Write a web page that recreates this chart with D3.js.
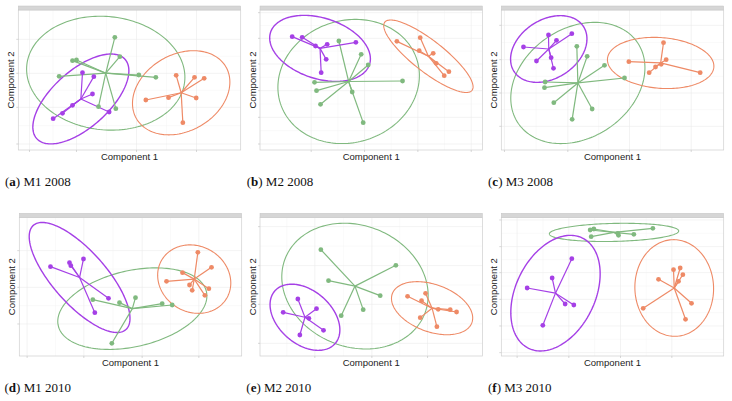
<!DOCTYPE html>
<html><head><meta charset="utf-8">
<script src="https://cdn.jsdelivr.net/npm/d3@7"></script>
<style>body{margin:0;background:#fff}svg{display:block}</style>
</head><body>
<svg id="chart" width="732" height="401"></svg>
<script>
// ---------- text ----------
const captionLetters = ["a", "b", "c", "d", "e", "f"];
const captionTitles = ["M1 2008", "M2 2008", "M3 2008", "M1 2010", "M2 2010", "M3 2010"];
const xAxisTitle = "Component 1";
const yAxisTitle = "Component 2";

// cluster order: green, purple, orange
const clusterColors = ["#80b97f", "#a540e6", "#ee8a66"];

// ---------- data (component scores) ----------
const a_green  = [[-0.44,1.28],[-0.29,0.70],[-1.71,0.58],[-1.59,0.60],[-2.11,0.11],[0.28,0.15],[0.79,0.08],[-0.93,-0.80],[-0.41,-0.86]];
const a_purple = [[-1.41,0.22],[-1.07,0.10],[-1.11,-0.42],[-1.71,-0.76],[-2.01,-1.00],[-2.29,-1.16],[-0.61,-0.96]];
const a_orange = [[1.40,0.14],[1.95,0.08],[2.24,0.05],[2.00,-0.54],[1.17,-0.53],[0.49,-0.60],[1.60,-1.28]];

const b_green  = [[-0.97,1.17],[-0.30,0.77],[-0.09,0.45],[-1.70,-0.07],[0.94,-0.03],[-1.64,-0.32],[-0.57,-0.36],[-1.52,-0.73],[-0.24,-1.28]];
const b_purple = [[-2.37,1.30],[-2.07,1.28],[-1.67,1.02],[-1.32,1.07],[-0.46,1.13],[-1.35,0.62],[-1.50,0.22]];
const b_orange = [[0.77,1.16],[1.47,1.27],[1.44,0.88],[1.86,0.80],[1.95,0.50],[2.33,0.25],[2.19,0.13]];

const c_green  = [[-1.07,1.01],[-0.76,0.71],[-0.24,0.44],[0.36,0.06],[-2.02,-0.06],[-2.04,-0.23],[-1.76,-0.68],[-0.61,-0.87],[-1.21,-1.18]];
const c_purple = [[-2.67,0.99],[-1.92,1.35],[-1.68,1.19],[-1.22,1.39],[-2.28,0.57],[-1.84,0.67],[-1.77,0.35]];
const c_orange = [[1.53,1.12],[0.49,0.55],[1.61,0.61],[1.46,0.47],[1.29,0.39],[1.10,0.22],[2.63,0.22]];

const d_green  = [[-1.13,-0.39],[-0.33,-0.48],[0.15,-0.33],[0.95,-0.51],[1.25,-0.55],[-0.56,-1.70]];
const d_purple = [[-2.40,0.60],[-1.83,0.72],[-1.79,0.63],[-1.41,0.83],[-0.66,-0.35],[-1.07,-0.78]];
const d_orange = [[2.02,1.03],[2.43,0.58],[1.56,0.42],[1.08,0.16],[1.77,0.05],[1.85,-0.11],[2.35,-0.06],[2.23,-0.26]];

const e_green  = [[-1.51,1.11],[0.74,0.64],[-1.28,0.18],[0.27,-0.27],[-0.24,-0.69],[-0.90,-0.87]];
const e_purple = [[-2.20,-0.37],[-2.64,-0.77],[-1.64,-0.66],[-1.87,-0.95],[-1.43,-1.31],[-2.14,-1.45]];
const e_orange = [[1.09,-0.29],[1.63,-0.20],[1.51,-0.42],[2.01,-0.68],[2.37,-0.69],[2.56,-0.76],[1.47,-0.93],[1.97,-1.20]];

const f_green  = [[-0.67,1.70],[-0.56,1.73],[-0.64,1.50],[0.16,1.60],[0.18,1.54],[0.64,1.57],[1.21,1.75]];
const f_purple = [[-1.22,0.84],[-1.81,0.26],[-2.56,-0.04],[-1.42,-0.52],[-1.16,-0.55],[-2.09,-1.16]];
const f_orange = [[1.83,0.51],[2.03,0.56],[2.11,0.36],[1.98,0.16],[1.38,0.22],[0.92,-0.65],[2.37,-0.50],[2.19,-0.98]];

// ellipses: [semi-major, semi-minor, angle in degrees] per cluster (green, purple, orange)
const a_ellipses = [[2.38,1.70,-6],[1.78,0.85,42],[1.55,1.15,30]];
const b_ellipses = [[2.15,1.83,18],[1.56,0.91,-18],[1.66,0.47,-38]];
const c_ellipses = [[2.16,1.64,34],[1.24,0.88,33],[1.60,0.76,-4.5]];
const d_ellipses = [[2.28,1.14,13],[2.09,0.80,-48.4],[1.13,0.99,-30]];
const e_ellipses = [[2.25,1.82,-22],[1.20,0.80,-41],[1.27,0.71,-20]];
const f_ellipses = [[1.94,0.27,1.3],[1.84,1.19,64],[1.45,1.18,92]];

// gridline positions
const a_xTicks = [-3.0,-1.59,0.21,2.01], a_yTicks = [1.22,0.20,-0.82,-1.92];
const b_xTicks = [-1.8,-0.2,1.4,3.0],   b_yTicks = [2.02,1.25,0.48,-0.32,-1.12,-1.92];
const c_xTicks = [-3.24,-1.34,0.51,2.36], c_yTicks = [1.64,0.61,-0.39,-1.39];
const d_xTicks = [-3.1,-1.4,0.35,2.05],  d_yTicks = [1.08,-0.02,-1.12];
const e_xTicks = [-3.37,-1.69,0.02,1.69], e_yTicks = [1.8,0.63,-0.53,-1.7];
const f_xTicks = [-2.86,-1.31,0.24,1.78], f_yTicks = [2.0,1.2,0.42,-0.38,-1.18,-1.98];

const panelData = [
  {clusters:[a_green,a_purple,a_orange], ellipses:a_ellipses, xt:a_xTicks, yt:a_yTicks},
  {clusters:[b_green,b_purple,b_orange], ellipses:b_ellipses, xt:b_xTicks, yt:b_yTicks},
  {clusters:[c_green,c_purple,c_orange], ellipses:c_ellipses, xt:c_xTicks, yt:c_yTicks},
  {clusters:[d_green,d_purple,d_orange], ellipses:d_ellipses, xt:d_xTicks, yt:d_yTicks},
  {clusters:[e_green,e_purple,e_orange], ellipses:e_ellipses, xt:e_xTicks, yt:e_yTicks},
  {clusters:[f_green,f_purple,f_orange], ellipses:f_ellipses, xt:f_xTicks, yt:f_yTicks}
];

// ---------- layout ----------
const plotW = 222.4;
const lefts = [18.3, 260, 501.3, 19.3, 260, 501.3];
const tops = [10, 10, 10, 217.3, 217.3, 217.3];
const heights = [140, 140, 140, 138.7, 138.7, 138.7];
const captionX = [5, 246.7, 488, 4.5, 246.3, 488];
const captionY = [185.5, 185.5, 185.5, 392, 392, 392];
const xDomain = [-3.335, 3.335];

const svg = d3.select("#chart");

panelData.forEach((p, i) => {
  const L = lefts[i], T = tops[i], H = heights[i];
  const x = d3.scaleLinear().domain(xDomain).range([L, L + plotW]);
  const yHalf = H * 3 / 200;
  const y = d3.scaleLinear().domain([-yHalf, yHalf]).range([T + H, T]);
  const g = svg.append("g");

  // background
  g.append("rect").attr("x", L).attr("y", T).attr("width", plotW).attr("height", H).attr("fill", "#fff");

  // minor grid
  const minorX = [], minorY = [];
  for (let k = 0; k < p.xt.length - 1; k++) minorX.push((p.xt[k] + p.xt[k + 1]) / 2);
  for (let k = 0; k < p.yt.length - 1; k++) minorY.push((p.yt[k] + p.yt[k + 1]) / 2);
  const inX = v => v > xDomain[0] && v < xDomain[1];
  const inY = v => v > -yHalf && v < yHalf;
  g.selectAll(null).data(minorX.filter(inX)).join("line")
    .attr("x1", d => x(d)).attr("x2", d => x(d)).attr("y1", T).attr("y2", T + H)
    .attr("stroke", "#f4f4f4").attr("stroke-width", 0.5);
  g.selectAll(null).data(minorY.filter(inY)).join("line")
    .attr("y1", d => y(d)).attr("y2", d => y(d)).attr("x1", L).attr("x2", L + plotW)
    .attr("stroke", "#f4f4f4").attr("stroke-width", 0.5);
  g.selectAll(null).data(p.xt.filter(inX)).join("line")
    .attr("x1", d => x(d)).attr("x2", d => x(d)).attr("y1", T).attr("y2", T + H)
    .attr("stroke", "#ebebeb").attr("stroke-width", 0.6);
  g.selectAll(null).data(p.yt.filter(inY)).join("line")
    .attr("y1", d => y(d)).attr("y2", d => y(d)).attr("x1", L).attr("x2", L + plotW)
    .attr("stroke", "#ebebeb").attr("stroke-width", 0.6);

  // border
  g.append("rect").attr("x", L).attr("y", T).attr("width", plotW).attr("height", H)
    .attr("fill", "none").attr("stroke", "#cfcfcf").attr("stroke-width", 0.7);

  // strip
  g.append("rect").attr("x", L).attr("y", T - 4).attr("width", plotW).attr("height", 4)
    .attr("fill", "#d6d6d6").attr("stroke", "#c4c4c4").attr("stroke-width", 0.5);

  // ticks
  g.selectAll(null).data(p.xt.filter(inX)).join("line")
    .attr("x1", d => x(d)).attr("x2", d => x(d)).attr("y1", T + H).attr("y2", T + H + 2)
    .attr("stroke", "#bdbdbd").attr("stroke-width", 0.6);
  g.selectAll(null).data(p.yt.filter(inY)).join("line")
    .attr("y1", d => y(d)).attr("y2", d => y(d)).attr("x1", L - 2).attr("x2", L)
    .attr("stroke", "#bdbdbd").attr("stroke-width", 0.6);

  // clusters
  const centers = p.clusters.map(pts => [d3.mean(pts, d => d[0]), d3.mean(pts, d => d[1])]);

  // ellipses
  const line = d3.line().curve(d3.curveLinearClosed);
  p.clusters.forEach((pts, ci) => {
    const [a, b, ang] = p.ellipses[ci];
    const th = ang * Math.PI / 180;
    const c = centers[ci];
    const ring = d3.range(0, 2 * Math.PI, Math.PI / 90).map(t => {
      const ex = a * Math.cos(t), ey = b * Math.sin(t);
      return [x(c[0] + ex * Math.cos(th) - ey * Math.sin(th)),
              y(c[1] + ex * Math.sin(th) + ey * Math.cos(th))];
    });
    g.append("path").attr("d", line(ring)).attr("fill", "none")
      .attr("stroke", clusterColors[ci]).attr("stroke-width", ci === 1 ? 1.4 : 1.1);
  });

  // star lines and points
  p.clusters.forEach((pts, ci) => {
    const c = centers[ci];
    g.selectAll(null).data(pts).join("line")
      .attr("x1", x(c[0])).attr("y1", y(c[1]))
      .attr("x2", d => x(d[0])).attr("y2", d => y(d[1]))
      .attr("stroke", clusterColors[ci]).attr("stroke-width", 1.2);
  });
  p.clusters.forEach((pts, ci) => {
    g.selectAll(null).data(pts).join("circle")
      .attr("cx", d => x(d[0])).attr("cy", d => y(d[1])).attr("r", 2.4)
      .attr("fill", clusterColors[ci]);
  });

  // axis titles
  g.append("text").attr("x", L + plotW / 2).attr("y", T + H + 9.7)
    .attr("text-anchor", "middle").attr("font-family", "Liberation Sans, Arial, sans-serif")
    .attr("font-size", 9.5).attr("fill", "#222").text(xAxisTitle);
  g.append("text").attr("transform", `translate(${L - 4.5},${T + H / 2}) rotate(-90)`)
    .attr("text-anchor", "middle").attr("font-family", "Liberation Sans, Arial, sans-serif")
    .attr("font-size", 9.5).attr("fill", "#222").text(yAxisTitle);

  // caption
  const cap = g.append("text").attr("x", captionX[i]).attr("y", captionY[i])
    .attr("font-family", "Liberation Serif, Times New Roman, serif").attr("font-size", 13).attr("fill", "#111");
  cap.append("tspan").text("(");
  cap.append("tspan").attr("font-weight", "bold").text(captionLetters[i]);
  cap.append("tspan").text(") " + captionTitles[i]);
});
</script>
</body></html>
